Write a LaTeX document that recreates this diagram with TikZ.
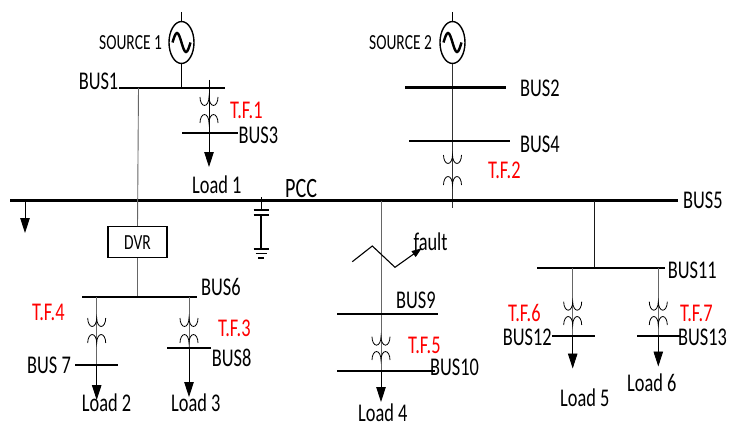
\documentclass[tikz,border=0pt]{standalone}
\usepackage{fontspec}
\setmainfont{Carlito}[FakeStretch=0.72]
\usetikzlibrary{arrows.meta,shapes.geometric}
\newcommand\fmainsz{\fontsize{25.5}{26}\selectfont}
\newcommand\fsmallsz{\fontsize{21.5}{22}\selectfont}
\newcommand\fpccsz{\fontsize{28}{28}\selectfont}
% transformer symbol: x, top of upper winding, bottom of lower winding
\newcommand\xfmrsym[3]{%
  \draw[coil] (#1-9,#2) arc[start angle=180,end angle=360,x radius=4.5pt,y radius=8.5pt]
                        arc[start angle=180,end angle=360,x radius=4.5pt,y radius=8.5pt];
  \draw[coil] (#1-9,#3) arc[start angle=180,end angle=0,x radius=4.5pt,y radius=8.5pt]
                        arc[start angle=180,end angle=0,x radius=4.5pt,y radius=8.5pt];
}
\begin{document}
\begin{tikzpicture}[x=1pt,y=-1pt,
  lbl/.style={font=\fmainsz, inner sep=0pt, anchor=base west},
  tfl/.style={lbl, text=red},
  srcl/.style={font=\fsmallsz, inner sep=0pt, anchor=base west},
  busline/.style={line width=2.2pt},
  feed/.style={line width=0.9pt, black!60},
  wire/.style={line width=0.9pt, black},
  ldarrow/.style={wire, -{Triangle[length=15pt,width=9.5pt]}},
  coil/.style={line width=0.8pt, black},
  srcshape/.style={draw, ellipse, line width=1.4pt, minimum width=25pt, minimum height=42pt, inner sep=0pt},
  sine/.style={line width=2.4pt},
  gnd/.style={line width=1.9pt}]
\useasboundingbox (0,0) rectangle (729,428);

% ---------------- Source 1 / BUS1 / BUS3 ----------------
\node[srcshape] (src1) at (181.5,42.5) {};
\draw[sine] (172.5,42.5) sin (177,33) cos (181.5,42.5) sin (186,52) cos (190.5,42.5);
\coordinate (s1top) at (181.5,12);
\coordinate (b1tap) at (181.5,88);
\draw[wire] (s1top) -- (src1.north);
\draw[wire] (src1.south) -- (b1tap);
\node[srcl] (lsrc1) at (99,50) {SOURCE 1};

\coordinate (b1L) at (119,88); \coordinate (b1R) at (225,88);
\draw[busline] (b1L) -- (b1R);
\node[lbl, anchor=base east] (lbus1) at (118.5,89.5) {BUS1};

\coordinate (tf1top) at (209,80);
\coordinate (b3tap) at (209,133);
\coordinate (ld1) at (209,167);
\draw[wire] (tf1top) -- (b3tap);
\xfmrsym{209}{97}{123}
\coordinate (b3L) at (182,133); \coordinate (b3R) at (238,133);
\draw[busline] (b3L) -- (b3R);
\draw[ldarrow] (b3tap) -- (ld1);
\node[tfl] (ltf1) at (230,118) {T.F.1};
\node[lbl] (lbus3) at (238.5,143) {BUS3};
\node[lbl] (lload1) at (192,193) {Load 1};

% ---------------- Source 2 / BUS2 / BUS4 ----------------
\node[srcshape] (src2) at (452.5,42.5) {};
\draw[sine] (443.5,42.5) sin (448,33) cos (452.5,42.5) sin (457,52) cos (461.5,42.5);
\coordinate (s2top) at (452.5,12);
\coordinate (s2bot) at (452.5,208);
\draw[wire] (s2top) -- (src2.north);
\draw[feed, black!80] (src2.south) -- (s2bot);
\node[srcl] (lsrc2) at (369,50) {SOURCE 2};

\coordinate (b2L) at (405,87.5); \coordinate (b2R) at (506,87.5);
\draw[busline] (b2L) -- (b2R);
\node[lbl] (lbus2) at (520,96.5) {BUS2};
\coordinate (b4L) at (409,141); \coordinate (b4R) at (510,141);
\draw[busline] (b4L) -- (b4R);
\node[lbl] (lbus4) at (520,152.5) {BUS4};
\xfmrsym{452.5}{155}{185}
\node[tfl] (ltf2) at (488,178) {T.F.2};

% ---------------- PCC / BUS5 ----------------
\coordinate (pccL) at (10,200.5); \coordinate (pccR) at (678,200.5);
\draw[busline] (pccL) -- (pccR);
\node[lbl] (lbus5) at (683,208.3) {BUS5};
\node[lbl, font=\fpccsz] (lpcc) at (285,197) {PCC};

% left load
\coordinate (ld0a) at (25,200.5); \coordinate (ld0b) at (25,233);
\draw[ldarrow] (ld0a) -- (ld0b);

% capacitor
\coordinate (capT) at (261,197); \coordinate (capP) at (261,210);
\coordinate (capQ) at (261,215); \coordinate (capG) at (261,249);
\draw[wire] (capT) -- (capP);
\draw[gnd] (253.5,210) -- (268.5,210);
\draw[gnd] (253.5,215) -- (268.5,215);
\draw[gnd] (capQ) -- (capG);
\draw[gnd] (253.5,249) -- (268.5,249);
\draw[gnd] (255.5,253.5) -- (266.5,253.5);
\draw[gnd] (258,258) -- (264,258);

% ---------------- DVR / BUS6 ----------------
\coordinate (dvrtap) at (138.5,88);
\node[draw, line width=1.3pt, minimum width=59pt, minimum height=31pt, inner sep=0pt, font=\fsmallsz] (dvr) at (137.5,242.3) {DVR};
\draw[feed] (dvrtap) -- (dvr.north);
\coordinate (b6tap) at (137.5,297);
\draw[feed] (dvr.south) -- (b6tap);
\coordinate (b6L) at (82,297); \coordinate (b6R) at (197,297);
\draw[busline] (b6L) -- (b6R);
\node[lbl] (lbus6) at (201,295) {BUS6};

% T.F.4 -> BUS 7 -> Load 2
\coordinate (tf4a) at (96.7,297); \coordinate (b7tap) at (96.7,365); \coordinate (ld2) at (96.7,400);
\draw[feed] (tf4a) -- (b7tap);
\xfmrsym{96.7}{318}{343}
\coordinate (b7L) at (75,365); \coordinate (b7R) at (118,365);
\draw[busline] (b7L) -- (b7R);
\draw[ldarrow] (b7tap) -- (ld2);
\node[tfl] (ltf4) at (32,320) {T.F.4};
\node[lbl] (lbus7) at (27,373) {BUS 7};
\node[lbl] (lload2) at (81.7,411.7) {Load 2};

% T.F.3 -> BUS8 -> Load 3
\coordinate (tf3a) at (189,297); \coordinate (b8tap) at (189,348); \coordinate (ld3) at (189,397);
\draw[feed] (tf3a) -- (b8tap);
\xfmrsym{189}{318}{343}
\coordinate (b8L) at (167,348); \coordinate (b8R) at (211,348);
\draw[busline] (b8L) -- (b8R);
\draw[ldarrow] (b8tap) -- (ld3);
\node[tfl] (ltf3) at (218,336.7) {T.F.3};
\node[lbl] (lbus8) at (211.7,366.7) {BUS8};
\node[lbl] (lload3) at (171,411.7) {Load 3};

% ---------------- BUS9 / BUS10 / Load 4 ----------------
\coordinate (b9top) at (381,200.5); \coordinate (b10tap) at (381,370.7); \coordinate (ld4) at (381,402);
\draw[feed] (b9top) -- (b10tap);
\draw[ldarrow] (b10tap) -- (ld4);
\coordinate (b9L) at (337,314); \coordinate (b9R) at (438,314);
\draw[busline] (b9L) -- (b9R);
\node[lbl] (lbus9) at (396,308) {BUS9};
\xfmrsym{381}{336.7}{360}
\node[tfl] (ltf5) at (408,353) {T.F.5};
\coordinate (b10L) at (337,370.7); \coordinate (b10R) at (435,370.7);
\draw[busline] (b10L) -- (b10R);
\node[lbl] (lbus10) at (430,375) {BUS10};
\node[lbl] (lload4) at (358,421) {Load 4};

% fault
\coordinate (f1) at (352.3,261.7); \coordinate (f2) at (372.3,246);
\coordinate (f3) at (395,267.3); \coordinate (f4) at (421.7,248.3);
\draw[line width=1.1pt, -{Triangle[length=10pt,width=7pt]}] (f1) -- (f2) -- (f3) -- (f4);
\node[lbl] (lfault) at (413.3,250.7) {fault};

% ---------------- BUS11 / BUS12 / BUS13 ----------------
\coordinate (b11top) at (594.3,200.5); \coordinate (b11tap) at (594.3,268);
\draw[feed, black!90] (b11top) -- (b11tap);
\coordinate (b11L) at (537,268); \coordinate (b11R) at (665,268);
\draw[busline] (b11L) -- (b11R);
\node[lbl] (lbus11) at (667.7,278.3) {BUS11};

\coordinate (tf6a) at (572.7,268); \coordinate (b12tap) at (572.7,336); \coordinate (ld5) at (572.7,368.5);
\draw[feed] (tf6a) -- (b12tap);
\xfmrsym{572.7}{301.7}{325}
\coordinate (b12L) at (552,336); \coordinate (b12R) at (595,336);
\draw[busline] (b12L) -- (b12R);
\draw[ldarrow] (b12tap) -- (ld5);
\node[tfl] (ltf6) at (508,321.7) {T.F.6};
\node[lbl] (lbus12) at (502.7,345) {BUS12};
\node[lbl] (lload5) at (560,406.7) {Load 5};

\coordinate (tf7a) at (658.3,268); \coordinate (b13tap) at (658.3,336); \coordinate (ld6) at (658.3,366.5);
\draw[feed] (tf7a) -- (b13tap);
\xfmrsym{658.3}{301.7}{325}
\coordinate (b13L) at (637,336); \coordinate (b13R) at (680,336);
\draw[busline] (b13L) -- (b13R);
\draw[ldarrow] (b13tap) -- (ld6);
\node[tfl] (ltf7) at (680,321.7) {T.F.7};
\node[lbl] (lbus13) at (678,345) {BUS13};
\node[lbl] (lload6) at (627,391.7) {Load 6};
\end{tikzpicture}
\end{document}
